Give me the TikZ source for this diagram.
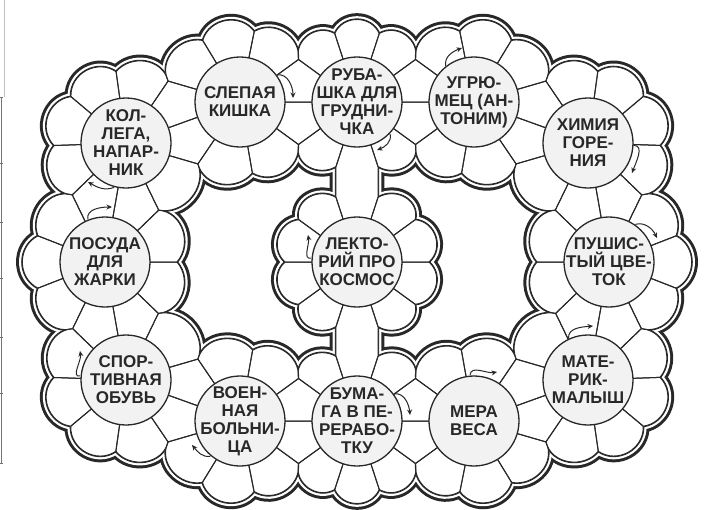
\documentclass[tikz,border=0pt]{standalone}
\usepackage{fontspec}
\setmainfont{Liberation Sans}
\usetikzlibrary{calc,arrows.meta}
\definecolor{ink}{RGB}{40,40,40}
\definecolor{disk}{RGB}{242,242,242}
% one petal (lobe) of flower #1 between ray angles #2<#3; #4,#5 = special cusp points (empty = normal cusp)
\newcommand\lobe[5]{%
  \def\lbtmp{#4}%
  \ifx\lbtmp\empty \coordinate (LA) at ($(#1)+(#2:72)$);\else \coordinate (LA) at (#4);\fi
  \def\lbtmp{#5}%
  \ifx\lbtmp\empty \coordinate (LB) at ($(#1)+(#3:72)$);\else \coordinate (LB) at (#5);\fi
  \pgfmathsetmacro\lbW{#3-(#2)}%
  \pgfmathsetmacro\lbT{42+0.95*(\lbW-36)}%
  \pgfmathsetmacro\lbK{20.5+0.43*(\lbW-36)}%
  \pgfmathsetmacro\lbA{#2+\lbT}%
  \pgfmathsetmacro\lbB{#3-\lbT}%
  \path[pcell] (#1) -- (LA) .. controls +(\lbA:\lbK) and +(\lbB:\lbK) .. (LB) -- cycle;%
}
\newcommand\allcells{%
  \foreach \i/\j in {1/2,2/3,3/4,4/5,5/6,6/7,7/8,8/9,9/10,10/11,11/12,12/1}{%
    \path[pcell] (c\i) -- (o\i) -- (c\j) -- cycle;
    \path[pcell] (c\i) -- (i\i) -- (c\j) -- cycle;}
  \path[pcell] (c2) -- (n2l) -- (n13tl) -- (c13) -- (n13tr) -- (n2r) -- cycle;
  \path[pcell] (c8) -- (n8l) -- (n13bl) -- (c13) -- (n13br) -- (n8r) -- cycle;
  % c1
  \lobe{c1}{36}{78.6}{o1}{}\lobe{c1}{78.6}{121.2}{}{}\lobe{c1}{121.2}{163.8}{}{o12}
  \lobe{c1}{235.8}{279.9}{i12}{}\lobe{c1}{279.9}{324}{}{i1}
  % c2
  \lobe{c2}{36}{72}{o2}{}\lobe{c2}{72}{108}{}{}\lobe{c2}{108}{144}{}{o1}
  \lobe{c2}{216}{252}{i1}{n2l}\lobe{c2}{288}{324}{n2r}{i2}
  % c3
  \lobe{c3}{16.2}{58.8}{o3}{}\lobe{c3}{58.8}{101.4}{}{}\lobe{c3}{101.4}{144}{}{o2}
  \lobe{c3}{216}{260.1}{i2}{}\lobe{c3}{260.1}{304.2}{}{i3}
  % c4
  \lobe{c4}{-44}{-1.9}{o4}{}\lobe{c4}{-1.9}{40.1}{}{}\lobe{c4}{40.1}{82.2}{}{}\lobe{c4}{82.2}{124.2}{}{o3}
  \lobe{c4}{196.2}{244}{i3}{i4}
  % c5
  \lobe{c5}{-64}{-21.3}{o5}{}\lobe{c5}{-21.3}{21.3}{}{}\lobe{c5}{21.3}{64}{}{o4}
  \lobe{c5}{136}{180}{i4}{}\lobe{c5}{180}{224}{}{i5}
  % c6
  \lobe{c6}{236.2}{278.2}{o6}{}\lobe{c6}{278.2}{320.1}{}{}\lobe{c6}{320.1}{362.1}{}{}\lobe{c6}{362.1}{404}{}{o5}
  \lobe{c6}{116}{164.2}{i5}{i6}
  % c7
  \lobe{c7}{216}{258.7}{o7}{}\lobe{c7}{258.7}{301.5}{}{}\lobe{c7}{301.5}{344.2}{}{o6}
  \lobe{c7}{56.2}{100.1}{i6}{}\lobe{c7}{100.1}{144}{}{i7}
  % c8
  \lobe{c8}{216}{252}{o8}{}\lobe{c8}{252}{288}{}{}\lobe{c8}{288}{324}{}{o7}
  \lobe{c8}{36}{72}{i7}{n8r}\lobe{c8}{108}{144}{n8l}{i8}
  % c9
  \lobe{c9}{195.8}{238.5}{o9}{}\lobe{c9}{238.5}{281.3}{}{}\lobe{c9}{281.3}{324}{}{o8}
  \lobe{c9}{36}{79.9}{i8}{}\lobe{c9}{79.9}{123.8}{}{i9}
  % c10
  \lobe{c10}{136}{178}{o10}{}\lobe{c10}{178}{219.9}{}{}\lobe{c10}{219.9}{261.9}{}{}\lobe{c10}{261.9}{303.8}{}{o9}
  \lobe{c10}{15.8}{64}{i9}{i10}
  % c11
  \lobe{c11}{116}{158.7}{o11}{}\lobe{c11}{158.7}{201.3}{}{}\lobe{c11}{201.3}{244}{}{o10}
  \lobe{c11}{-44}{0}{i10}{}\lobe{c11}{0}{44}{}{i11}
  % c12
  \lobe{c12}{55.8}{97.9}{o12}{}\lobe{c12}{97.9}{139.9}{}{}\lobe{c12}{139.9}{182}{}{}\lobe{c12}{182}{224}{}{o11}
  \lobe{c12}{296}{343.8}{i11}{i12}
  % c13
  \lobe{c13}{0}{36}{}{}\lobe{c13}{36}{72}{}{n13tr}\lobe{c13}{108}{144}{n13tl}{}\lobe{c13}{144}{180}{}{}
  \lobe{c13}{180}{216}{}{}\lobe{c13}{216}{252}{}{n13bl}\lobe{c13}{288}{324}{n13br}{}\lobe{c13}{324}{360}{}{}
}
\begin{document}
\begin{tikzpicture}[x=1pt,y=1pt,
  disc/.style={circle,draw=ink,line width=1.3pt,fill=disk,minimum size=90pt,inner sep=0pt},
  txt/.style={align=center,inner sep=0pt,text=ink,font=\fontsize{17}{18}\selectfont\bfseries},
  arr/.style={draw=ink,line width=1pt,-{Stealth[length=5.5pt,width=5pt]}},
  edge/.style={draw=black!55,line width=0.7pt}]
\useasboundingbox (0,-509) rectangle (719,0);
\fill[white] (0,-509) rectangle (719,0);
% flower centres
\coordinate (c1) at (240,-102);
\coordinate (c2) at (357,-102);
\coordinate (c3) at (474,-102);
\coordinate (c4) at (588,-143);
\coordinate (c5) at (609,-262);
\coordinate (c6) at (588,-380);
\coordinate (c7) at (474,-421);
\coordinate (c8) at (357,-421);
\coordinate (c9) at (240,-421);
\coordinate (c10) at (126,-380);
\coordinate (c11) at (105,-262);
\coordinate (c12) at (126,-143);
\coordinate (c13) at (357,-262);
% pinch points between ring neighbours
\foreach \i/\j in {1/2,2/3,3/4,4/5,5/6,6/7,7/8,8/9,9/10,10/11,11/12,12/1}{%
  \coordinate (o\i) at ($(c\i)!0.618034!36:(c\j)$);
  \coordinate (i\i) at ($(c\i)!0.618034!-36:(c\j)$);}
% neck points
\coordinate (n2l) at ($(c2)+(252:68)$);
\coordinate (n2r) at ($(c2)+(288:68)$);
\coordinate (n13tl) at ($(c13)+(108:68)$);
\coordinate (n13tr) at ($(c13)+(72:68)$);
\coordinate (n13bl) at ($(c13)+(252:68)$);
\coordinate (n13br) at ($(c13)+(288:68)$);
\coordinate (n8l) at ($(c8)+(108:68)$);
\coordinate (n8r) at ($(c8)+(72:68)$);
% double outline by layered strokes, then cells
\tikzset{pcell/.style={draw=ink,line width=12.6pt,line join=round,line cap=round}}\allcells
\tikzset{pcell/.style={draw=white,line width=6.6pt,line join=round,line cap=round}}\allcells
\tikzset{pcell/.style={draw=ink,line width=2.2pt,line join=round,line cap=round}}\allcells
\tikzset{pcell/.style={fill=white}}\allcells
\tikzset{pcell/.style={draw=ink,line width=1pt,line join=round}}\allcells
% centre discs
\foreach \k in {1,...,13}{\node[disc] (d\k) at (c\k) {};}
\node[txt] (t1) at (c1) {СЛЕПАЯ\\КИШКА};
\node[txt] (t2) at (c2) {РУБА-\\ШКА ДЛЯ\\ГРУДНИ-\\ЧКА};
\node[txt] (t3) at (c3) {УГРЮ-\\МЕЦ (АН-\\ТОНИМ)};
\node[txt] (t4) at (c4) {ХИМИЯ\\ГОРЕ-\\НИЯ};
\node[txt] (t5) at (c5) {ПУШИС-\\ТЫЙ ЦВЕ-\\ТОК};
\node[txt] (t6) at (c6) {МАТЕ-\\РИК-\\МАЛЫШ};
\node[txt] (t7) at (c7) {МЕРА\\ВЕСА};
\node[txt] (t8) at (c8) {БУМА-\\ГА В ПЕ-\\РЕРАБО-\\ТКУ};
\node[txt] (t9) at (c9) {ВОЕН-\\НАЯ\\БОЛЬНИ-\\ЦА};
\node[txt] (t10) at (c10) {СПОР-\\ТИВНАЯ\\ОБУВЬ};
\node[txt] (t11) at (c11) {ПОСУДА\\ДЛЯ\\ЖАРКИ};
\node[txt] (t12) at (c12) {КОЛ-\\ЛЕГА,\\НАПАР-\\НИК};
\node[txt] (t13) at (c13) {ЛЕКТО-\\РИЙ ПРО\\КОСМОС};
% direction arrows
\draw[arr] ($(c1)+(36:46)$) to[out=10,in=90] ($(c1)+(53,4)$);
\draw[arr] ($(c2)+(-44:46)$) to[out=-75,in=20] ($(c2)+(20,-48)$);
\draw[arr] ($(c3)+(128:46)$) to[out=100,in=200] ($(c3)+(-12,54)$);
\draw[arr] ($(c4)+(-3:46)$) to[out=0,in=70] ($(c4)+(44,-30)$);
\draw[arr] ($(c5)+(55:46)$) to[out=15,in=115] ($(c5)+(48,24)$);
\draw[arr] ($(c6)+(115:46)$) to[out=95,in=185] ($(c6)+(5,54)$);
\draw[arr] ($(c7)+(95:46)$) to[out=85,in=190] ($(c7)+(23,49)$);
\draw[arr] ($(c8)+(36:46)$) to[out=10,in=95] ($(c8)+(53,6)$);
\draw[arr] ($(c9)+(-130:46)$) to[out=190,in=-50] ($(c9)+(-48,-24)$);
\draw[arr] ($(c10)+(175:46)$) to[out=190,in=-80] ($(c10)+(-46,29)$);
\draw[arr] ($(c11)+(112:46)$) to[out=100,in=180] ($(c11)+(7,55)$);
\draw[arr] ($(c12)+(-105:46)$) to[out=200,in=-30] ($(c12)+(-38,-39)$);
\draw[arr] ($(c13)+(175:46)$) to[out=195,in=-80] ($(c13)+(-49,27)$);
% cut-off ruling at the left edge
\coordinate (e0) at (4,0);
\coordinate (e1) at (4,-97);
\draw[black!25,line width=0.6pt] (e0) -- (e1);
\coordinate (e2) at (1.5,-97);
\coordinate (e3) at (1.5,-463);
\draw[edge] (e2) -- (e3);
\foreach \yy in {97,163,222,278,337,393,463}{\draw[edge] (0,-\yy) -- (3,-\yy);}
\end{tikzpicture}
\end{document}
